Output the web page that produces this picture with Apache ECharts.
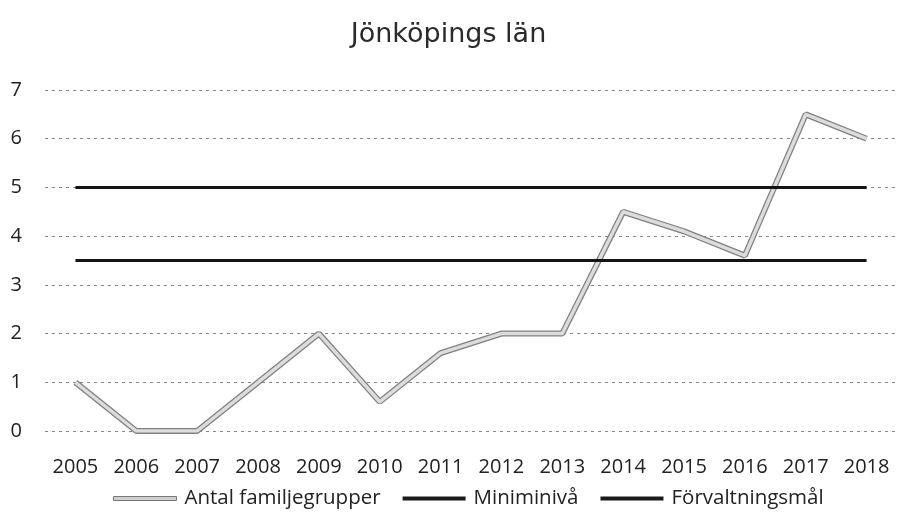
<!DOCTYPE html>
<html><head><meta charset="utf-8">
<script src="https://cdn.jsdelivr.net/npm/echarts@6/dist/echarts.min.js"></script>
<style>html,body{margin:0;padding:0;background:#fff}#c{width:897px;height:521px}</style>
</head><body><div id="c"></div>
<script>
const years = ['2005','2006','2007','2008','2009','2010','2011','2012','2013','2014','2015','2016','2017','2018'];
const antal = [1, 0, 0, 1, 2, 0.6, 1.6, 2, 2, 4.5, 4.1, 3.6, 6.5, 6];
const minimi = [3.5,3.5,3.5,3.5,3.5,3.5,3.5,3.5,3.5,3.5,3.5,3.5,3.5,3.5];
const forvalt = [5,5,5,5,5,5,5,5,5,5,5,5,5,5];
const yTicks = [0,1,2,3,4,5,6,7];

const chart = echarts.init(document.getElementById('c'));
chart.setOption({
  animation: false,
  title: {text: 'Jönköpings län', left: 'center', top: 16,
    textStyle: {fontFamily: 'DejaVu Sans', fontWeight: 'normal', fontSize: 27, color: '#2a2a2a'}},
  grid: {left: 45, right: 0, top: 90, bottom: 90},
  legend: {bottom: 7, left: 108, itemWidth: 63, itemHeight: 4, itemGap: 22,
    textStyle: {fontFamily: 'Open Sans', fontSize: 20.5, color: '#222', padding: [0,0,0,3]},
    data: [
      {name: 'Antal familjegrupper', icon: 'rect', itemStyle: {color: '#cfcfcf', borderColor: '#777', borderWidth: 1}},
      {name: 'Miniminivå', icon: 'rect', itemStyle: {color: '#1a1a1a'}},
      {name: 'Förvaltningsmål', icon: 'rect', itemStyle: {color: '#1a1a1a'}}
    ]},
  xAxis: {type: 'category', data: years, boundaryGap: true,
    axisLine: {show: false}, axisTick: {show: false},
    axisLabel: {fontFamily: 'Open Sans', fontSize: 20, color: '#222', margin: 26}},
  yAxis: {type: 'value', min: 0, max: 7, interval: 1,
    axisLabel: {fontFamily: 'Open Sans', fontSize: 20, color: '#222', margin: 23,
      formatter: v => String(yTicks[v] !== undefined ? yTicks[v] : v)},
    splitLine: {lineStyle: {color: '#888', type: [3, 4], width: 1}}},
  series: [
    {name: 'Antal familjegrupper', type: 'line', data: antal, symbol: 'none', z: 1,
      lineStyle: {color: '#808080', width: 6}},
    {name: 'Antal familjegrupper', type: 'line', data: antal, symbol: 'none', z: 2,
      lineStyle: {color: '#dcdcdc', width: 3.5}},
    {name: 'Miniminivå', type: 'line', data: minimi, symbol: 'none', z: 3,
      lineStyle: {color: '#141414', width: 3}},
    {name: 'Förvaltningsmål', type: 'line', data: forvalt, symbol: 'none', z: 3,
      lineStyle: {color: '#141414', width: 3}}
  ]
});
</script></body></html>
